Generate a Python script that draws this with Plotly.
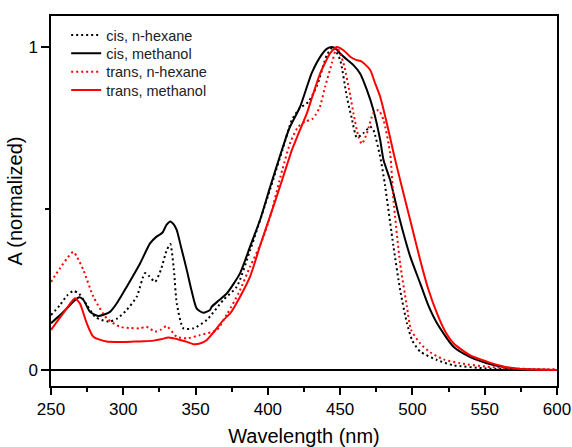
import plotly.graph_objects as go

# ---- data ----
cis_hex_wl = [250, 256, 261, 265.4, 269.6, 275, 280.4, 285, 290.8, 296, 302.4, 309.3, 315, 318,
              322, 326, 330, 332.5, 335, 337, 341.6, 348.5, 357.8, 369.2, 378.5, 387.7, 401.6, 410,
              416.6, 422, 428, 434, 440.8, 445, 450, 454.6, 458, 461.5, 466, 470.8, 473, 477.7, 481,
              486.9, 491.5, 496.2, 500, 505.4, 517, 528, 551, 575, 600]
cis_hex_a = [0.17, 0.20, 0.23, 0.245, 0.235, 0.20, 0.165, 0.155, 0.15, 0.16, 0.186, 0.227, 0.30, 0.29,
             0.273, 0.31, 0.37, 0.39, 0.31, 0.206, 0.129, 0.129, 0.155, 0.217, 0.258, 0.37, 0.56, 0.68,
             0.774, 0.81, 0.83, 0.88, 0.975, 1.0, 0.96, 0.846, 0.78, 0.72, 0.733, 0.753, 0.743, 0.66, 0.573,
             0.382, 0.248, 0.145, 0.09, 0.057, 0.031, 0.015, 0.005, 0.002, 0.0]

cis_meoh_wl = [250, 255, 260.8, 265, 269.6, 272.4, 277, 282.7, 290.8, 296, 302.4, 311.6, 318.5, 323,
               327, 330, 332.5, 335, 337, 340, 343.9, 347, 350.8, 355.4, 360, 361.2, 366, 371.6, 380.8,
               387.7, 395, 401.6, 409.7, 415, 422.3, 430.4, 437, 441, 444.3, 447, 450, 455, 459.2,
               463.8, 468.5, 473, 477.7, 480, 484.6, 491, 498.5, 505.4, 511, 517, 528.4, 540, 551.5,
               563, 575, 600]
cis_meoh_a = [0.145, 0.165, 0.19, 0.21, 0.225, 0.217, 0.18, 0.167, 0.18, 0.21, 0.258, 0.33, 0.392, 0.413,
              0.425, 0.45, 0.46, 0.45, 0.433, 0.38, 0.31, 0.25, 0.19, 0.177, 0.186, 0.196, 0.215, 0.237, 0.30,
              0.382, 0.47, 0.567, 0.681, 0.75, 0.815, 0.92, 0.975, 0.995, 1.0, 0.995, 0.98, 0.96, 0.944,
              0.918, 0.867, 0.805, 0.712, 0.65, 0.588, 0.47, 0.351, 0.268, 0.2, 0.145, 0.072, 0.04, 0.021,
              0.009, 0.002, 0.0]

trans_hex_wl = [250, 256.2, 261, 265.4, 268, 272.4, 279.3, 288.5, 297.7, 305, 311.6, 316, 322, 326, 330,
                337, 344, 353, 364.7, 372, 380, 387.7, 395, 401.6, 410, 416, 421, 426, 430.4, 433, 436,
                439.6, 444.3, 447.7, 452.3, 457, 459.2, 462.7, 465, 468.5, 473, 476.5, 480, 484.6, 486.9,
                491.5, 496.2, 499, 505.4, 512.3, 521.5, 533, 551.5, 575, 600]
trans_hex_a = [0.273, 0.315, 0.345, 0.366, 0.35, 0.31, 0.227, 0.16, 0.134, 0.13, 0.129, 0.134, 0.119, 0.125,
               0.136, 0.103, 0.098, 0.108, 0.124, 0.175, 0.24, 0.32, 0.39, 0.475, 0.62, 0.71, 0.753, 0.77,
               0.776, 0.79, 0.815, 0.877, 0.95, 1.0, 0.95, 0.85, 0.795, 0.722, 0.70, 0.733, 0.795, 0.805,
               0.774, 0.67, 0.526, 0.33, 0.196, 0.125, 0.082, 0.055, 0.033, 0.021, 0.01, 0.004, 0.002]

trans_meoh_wl = [250, 255, 260.8, 264, 266.6, 270, 274.7, 279.3, 288.5, 298, 307, 314, 320.8, 326, 331.2,
                 335, 339.3, 344, 348.5, 353, 357.8, 363, 369.3, 373.9, 380.8, 387.7, 395, 403.8, 410,
                 416.6, 421, 427, 431, 436.2, 440, 443, 447.7, 452.3, 457, 461, 465, 470.8, 474, 477.7,
                 482.3, 487, 491.5, 498.5, 505.4, 511, 517, 522, 528.4, 540, 551.5, 563, 575, 600]
trans_meoh_a = [0.124, 0.155, 0.19, 0.21, 0.222, 0.206, 0.145, 0.103, 0.088, 0.087, 0.088, 0.089, 0.091,
                0.095, 0.101, 0.098, 0.093, 0.087, 0.080, 0.082, 0.093, 0.12, 0.155, 0.175, 0.227, 0.289,
                0.39, 0.506, 0.59, 0.681, 0.73, 0.795, 0.85, 0.918, 0.955, 0.98, 1.0, 0.99, 0.97, 0.96,
                0.955, 0.929, 0.89, 0.846, 0.764, 0.671, 0.588, 0.464, 0.34, 0.25, 0.175, 0.125, 0.083,
                0.045, 0.026, 0.011, 0.003, 0.0]

x_ticks = [250, 300, 350, 400, 450, 500, 550, 600]
y_ticks = [0, 1]

FONT = "Arial, Liberation Sans, sans-serif"
DOT = "2px,3px"

fig = go.Figure()
series = [
    ("cis, n-hexane", cis_hex_wl, cis_hex_a, "black", DOT),
    ("cis, methanol", cis_meoh_wl, cis_meoh_a, "black", "solid"),
    ("trans, n-hexane", trans_hex_wl, trans_hex_a, "#ff0000", DOT),
    ("trans, methanol", trans_meoh_wl, trans_meoh_a, "#ff0000", "solid"),
]
legend_ids = ["legend", "legend2", "legend3", "legend4"]
for (name, wl, a, col, dash), lg in zip(series, legend_ids):
    fig.add_trace(go.Scatter(
        x=wl, y=a, mode="lines", name=name, legend=lg,
        line=dict(color=col, width=2, dash=dash, shape="spline", smoothing=0.6),
    ))

# one single-entry legend per row, stacked at 18.3 px pitch
row_y = [0.9486, 0.8992, 0.8494, 0.8000]
legend_style = dict(
    x=0.03, xanchor="left", yanchor="middle",
    bgcolor="rgba(0,0,0,0)", borderwidth=0,
    font=dict(family=FONT, size=14.5, color="#222"),
)
layout_legends = {lg: dict(legend_style, y=yy) for lg, yy in zip(legend_ids, row_y)}

fig.update_layout(
    width=572, height=447,
    margin=dict(l=51, r=15, t=16, b=61),
    plot_bgcolor="white", paper_bgcolor="white",
    font=dict(family=FONT, color="black", size=17),
    showlegend=True,
    **layout_legends,
)
fig.update_xaxes(
    range=[250, 600], tickvals=x_ticks, ticktext=[str(v) for v in x_ticks],
    ticks="outside", ticklen=7, tickwidth=1.5, tickcolor="black",
    minor=dict(dtick=25, tick0=250, ticks="outside", ticklen=4, tickwidth=1.5, tickcolor="black"),
    showline=True, linecolor="black", linewidth=1.5, mirror=True,
    showgrid=False, zeroline=False, automargin=False,
    title=dict(text="Wavelength (nm)", font=dict(size=20), standoff=11),
    tickfont=dict(size=17),
)
fig.update_yaxes(
    range=[-0.0495, 1.096], tickvals=y_ticks, ticktext=["0", "1"],
    ticks="outside", ticklen=8, tickwidth=1.5, tickcolor="black",
    minor=dict(tickvals=[0.5], ticks="outside", ticklen=4, tickwidth=1.5, tickcolor="black"),
    showline=True, linecolor="black", linewidth=1.5, mirror=True,
    showgrid=False, zeroline=True, zerolinecolor="black", zerolinewidth=1.5,
    automargin=False,
    title=dict(text="A (normalized)", font=dict(size=20), standoff=0),
    tickfont=dict(size=17),
)

fig.write_html("out.html")
